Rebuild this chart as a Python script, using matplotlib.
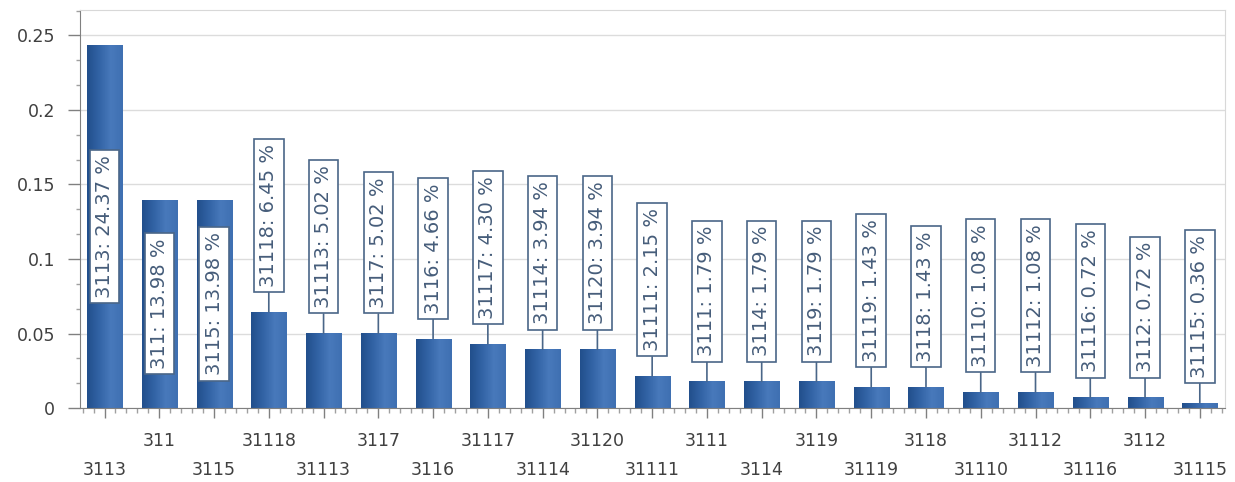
import matplotlib
matplotlib.use("Agg")
import matplotlib.pyplot as plt
import numpy as np
from matplotlib.colors import LinearSegmentedColormap
from matplotlib.ticker import MultipleLocator, FuncFormatter

# category codes and their share (fraction of total)
categories = ["3113", "311", "3115", "31118", "31113", "3117", "3116", "31117",
              "31114", "31120", "31111", "3111", "3114", "3119", "31119", "3118",
              "31110", "31112", "31116", "3112", "31115"]
percents = [24.37, 13.98, 13.98, 6.45, 5.02, 5.02, 4.66, 4.30,
            3.94, 3.94, 2.15, 1.79, 1.79, 1.79, 1.43, 1.43,
            1.08, 1.08, 0.72, 0.72, 0.36]
values = [p / 100 for p in percents]

plt.rcParams["font.family"] = ["DejaVu Sans"]

fig = plt.figure(figsize=(12.35, 4.82), dpi=100)
ax = fig.add_axes([0.0648, 0.1535, 0.9271, 0.8255])

x = np.arange(len(categories))
bars = ax.bar(x, values, width=0.64, color="#3566a8", zorder=2)

# horizontal gradient inside each bar
cmap = LinearSegmentedColormap.from_list("bar", ["#224f8c", "#3263a5", "#4879bb", "#3f70b2"])
grad = np.linspace(0, 1, 64).reshape(1, -1)
for b in bars:
    x0 = b.get_x()
    im = ax.imshow(grad, cmap=cmap, aspect="auto", zorder=2.5,
                   extent=(x0, x0 + b.get_width(), 0, b.get_height()))
    im.set_clip_path(b)

ax.set_xlim(-0.447, 20.46)
ax.set_ylim(0, 0.267)

box = dict(boxstyle="square,pad=0.27", fc="white", ec="#4a6688", lw=1.2)
lbl_color = "#465d7a"
for i, (v, p) in enumerate(zip(values, percents)):
    label = f"{categories[i]}: {p:.2f} %"
    if v > 0.1:
        ax.text(i, v / 2, label, rotation=90, ha="center", va="center",
                fontsize=14, color=lbl_color, bbox=box, zorder=4)
    else:
        ax.annotate(label, xy=(i, v), xytext=(0, 25), textcoords="offset pixels",
                    rotation=90, ha="center", va="bottom", fontsize=14,
                    color=lbl_color, bbox=box, zorder=4,
                    arrowprops=dict(arrowstyle="-", color="#4a6688", lw=1.2,
                                    shrinkA=0, shrinkB=0))

# category labels in two staggered rows
ax.set_xticks(x)
ax.set_xticklabels([])
for i, c in enumerate(categories):
    dy = -62 if i % 2 == 0 else -33
    ax.annotate(c, xy=(i, 0), xycoords=("data", "axes fraction"),
                xytext=(0, dy), textcoords="offset pixels",
                ha="center", va="center", fontsize=12.5, color="#404040")

ax.xaxis.set_minor_locator(MultipleLocator(0.2))
ax.yaxis.set_major_locator(MultipleLocator(0.05))
ax.yaxis.set_minor_locator(MultipleLocator(0.05 / 3))
ax.yaxis.set_major_formatter(FuncFormatter(lambda v, pos: f"{v:g}"))

ax.tick_params(axis="x", which="major", length=7, width=1, color="#808080", direction="out")
ax.tick_params(axis="x", which="minor", length=3.5, width=1, color="#a0a0a0", direction="out")
ax.tick_params(axis="y", which="major", length=9, width=1, color="#808080",
               labelsize=12.5, labelcolor="#404040", pad=9)
ax.tick_params(axis="y", which="minor", length=3, width=1, color="#a0a0a0")

ax.grid(axis="y", which="major", color="#dcdcdc", lw=1, zorder=0)
ax.set_axisbelow(True)

for side in ["left", "bottom"]:
    ax.spines[side].set_color("#808080")
for side in ["top", "right"]:
    ax.spines[side].set_color("#d8d8d8")

fig.savefig("out.png", dpi=100)
